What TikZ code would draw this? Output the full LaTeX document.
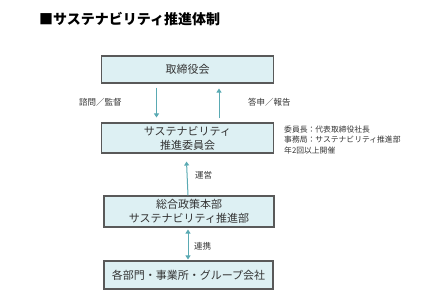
\documentclass[tikz,border=0pt]{standalone}
\usepackage{fontspec}
\setmainfont{Noto Sans CJK JP}
\usepackage{xcolor}
\usetikzlibrary{arrows.meta,positioning,calc}
\definecolor{boxfill}{HTML}{DDF0F3}
\definecolor{boxline}{HTML}{595959}
\definecolor{linkteal}{HTML}{5AAAB3}
\definecolor{inkgray}{HTML}{333333}

\begin{document}
\begin{tikzpicture}[
  x=1pt,y=-1pt,
  orgbox/.style={draw=boxline,line width=1.1pt,fill=boxfill,minimum width=172pt,inner sep=1pt,
    align=center,font=\fontsize{11}{14}\selectfont,text=inkgray},
  link/.style={draw=linkteal,line width=1pt,-{Triangle[length=4pt,width=5pt]}},
  twolink/.style={draw=linkteal,line width=1pt,{Triangle[length=4pt,width=5pt]}-{Triangle[length=4pt,width=5pt]}},
  lab/.style={font=\fontsize{8.5}{10}\selectfont,text=inkgray,inner sep=0pt},
  note/.style={font=\fontsize{7.8}{10.5}\selectfont,text=inkgray,align=left,inner sep=0pt}
]
\useasboundingbox (0,0) rectangle (443,307);

\node[anchor=west,font=\fontsize{14}{16}\selectfont\bfseries,inner sep=0pt] (title) at (39,19) {■サステナビリティ推進体制};

\node[orgbox,minimum height=27pt] (board) at (187.5,69.5) {取締役会};
\node[orgbox,minimum height=30pt] (comm) at (187.5,138) {サステナビリティ\\推進委員会};
\node[orgbox,minimum height=31pt,minimum width=170pt] (dept) at (189,211.5) {総合政策本部\\サステナビリティ推進部};
\node[orgbox,minimum height=28pt,minimum width=169pt] (group) at (188.5,275) {各部門・事業所・グループ会社};

% board <-> committee
\draw[link] ([xshift=-31pt,yshift=-4pt]board.south) -- ([xshift=-31pt,yshift=5pt]comm.north);
\draw[link] ([xshift=31.5pt,yshift=4pt]comm.north) -- ([xshift=31.5pt,yshift=-5pt]board.south);
\node[lab,anchor=west] (ask) at (79,102) {諮問／監督};
\node[lab,anchor=west] (reply) at (248,102) {答申／報告};

\node[note,anchor=north west] (memo) at (284,125.5) {委員長：代表取締役社長\\事務局：サステナビリティ推進部\\年2回以上開催};

% department -> committee
\draw[link] ([xshift=-1pt]dept.north) -- ([xshift=-1pt,yshift=-8pt]comm.south);
\node[lab,anchor=west] (run) at (195,175) {運営};

% department <-> group
\draw[twolink] ([xshift=-1pt,yshift=-2pt]dept.south) -- ([xshift=-0.5pt,yshift=1pt]group.north);
\node[lab,anchor=west] (coop) at (194,246) {連携};
\end{tikzpicture}
\end{document}
